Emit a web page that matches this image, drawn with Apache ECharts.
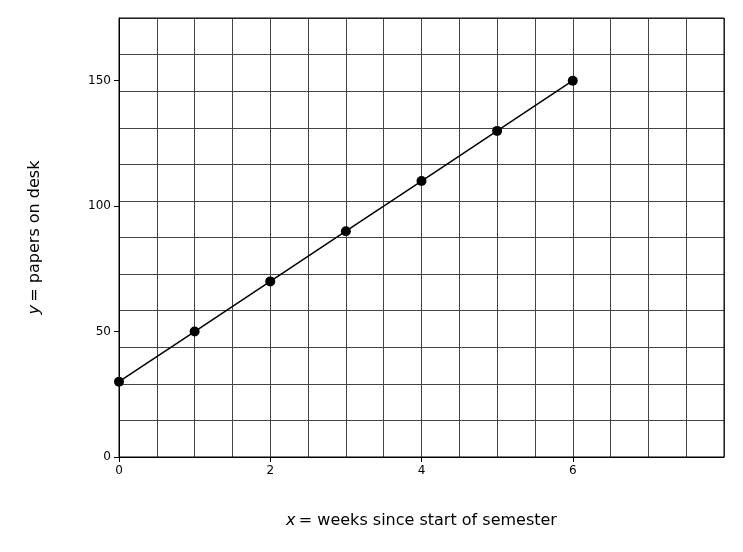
<!DOCTYPE html>
<html>
<head>
<meta charset="utf-8">
<script src="https://cdn.jsdelivr.net/npm/echarts@6/dist/echarts.min.js"></script>
</head>
<body style="margin:0">
<div id="chart" style="width:743px;height:552px;"></div>
<script>
  var weeks = [0, 1, 2, 3, 4, 5, 6];
  var papers = [30, 50, 70, 90, 110, 130, 150];
  var xTicks = [0, 2, 4, 6];
  var yTicks = [0, 50, 100, 150];

  var chart = echarts.init(document.getElementById('chart'));
  var font = 'DejaVu Sans';
  var gridLine = { show: true, lineStyle: { color: '#444', width: 1 } };
  var nameRich = { i: { fontStyle: 'italic', fontSize: 16, fontFamily: font, color: '#000' },
                   n: { fontSize: 16, fontFamily: font, color: '#000' } };

  chart.setOption({
    animation: false,
    grid: { left: 119, right: 19, top: 18, bottom: 95 },
    xAxis: [{
      type: 'value', min: 0, max: 8,
      axisLine: { show: true, onZero: false, lineStyle: { color: '#000' } },
      axisTick: { show: true, length: 5, customValues: xTicks, lineStyle: { color: '#000' } },
      splitLine: { show: false },
      axisLabel: { fontFamily: font, fontSize: 12, color: '#000', customValues: xTicks },
      name: '{i|x} {n|= weeks since start of semester}', nameLocation: 'middle', nameGap: 56,
      nameTextStyle: { rich: nameRich }
    }, {
      type: 'value', min: 0, max: 8, interval: 0.5, position: 'bottom',
      axisLine: { show: false }, axisTick: { show: false }, axisLabel: { show: false },
      splitLine: gridLine
    }],
    yAxis: [{
      type: 'value', min: 0, max: 175,
      axisLine: { show: true, onZero: false, lineStyle: { color: '#000' } },
      axisTick: { show: true, length: 5, customValues: yTicks, lineStyle: { color: '#000' } },
      splitLine: { show: false },
      axisLabel: { fontFamily: font, fontSize: 12, color: '#000', customValues: yTicks },
      name: '{i|y} {n|= papers on desk}', nameLocation: 'middle', nameGap: 76,
      nameTextStyle: { rich: nameRich }
    }, {
      type: 'value', min: 0, max: 175, interval: 175 / 12, position: 'left',
      axisLine: { show: false }, axisTick: { show: false }, axisLabel: { show: false },
      splitLine: gridLine
    }],
    graphic: [{
      type: 'rect', shape: { x: 119, y: 18, width: 605, height: 439 },
      style: { fill: 'none', stroke: '#000', lineWidth: 1 }, z: 100
    }],
    series: [{
      type: 'line',
      data: weeks.map(function (w, i) { return [w, papers[i]]; }),
      symbol: 'circle', symbolSize: 10,
      itemStyle: { color: '#000' },
      lineStyle: { color: '#000', width: 1.5 },
      clip: false, z: 10
    }]
  });
</script>
</body>
</html>
